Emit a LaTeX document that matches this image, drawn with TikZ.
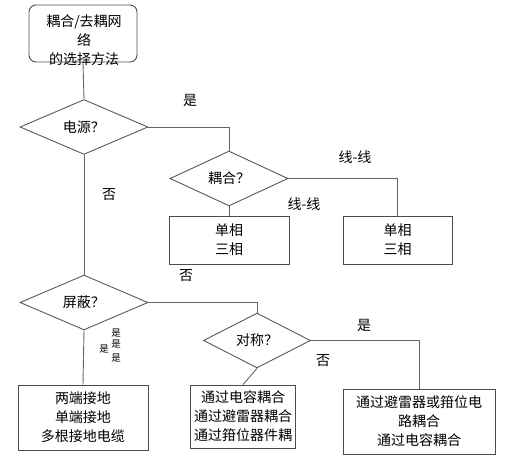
\documentclass[tikz,border=0pt]{standalone}
\usepackage{fontspec}
\setmainfont{Noto Sans CJK SC}
\usetikzlibrary{positioning, shapes.geometric, shadows}

\begin{document}
\begin{tikzpicture}[
  x=1pt, y=-1pt,
  every node/.style={font=\fontsize{14}{19}\selectfont},
  startbox/.style={rectangle, rounded corners=7pt, draw=black!70, line width=0.9pt,
                minimum width=108pt, minimum height=57pt},
  decision/.style={diamond, draw=black!65, line width=0.9pt, inner sep=0pt,
                minimum width=#1, minimum height=47pt},
  actionbox/.style={rectangle, draw=black!70, line width=0.9pt, fill=white, align=center,
                drop shadow={shadow xshift=1pt, shadow yshift=-1pt, fill=black!45, opacity=1}},
  edge/.style={draw=black!60, line width=0.9pt},
  answer/.style={inner sep=1pt},
  stacked/.style={inner sep=0pt, font=\fontsize{9.5}{10}\selectfont}
]
\useasboundingbox (0,0) rectangle (515,465);

% === Start ===
\node[startbox] (start) at (83,33.5) {};
\node[align=center, inner sep=0pt] (starttext) at (84,40) {耦合/去耦网\\络\\的选择方法};

% === Decisions ===
\node[decision=128pt] (power)  at (84,127) {电源？};
\node[decision=118pt] (couple) at (229,178.5) {耦合？};
\node[decision=128pt] (shield) at (84,302.5) {屏蔽？};
\node[decision=107pt] (sym)    at (257,340.5) {对称？};

% === Actions ===
\node[actionbox, minimum width=120pt, minimum height=48pt] (phaseL) at (229,240) {单相\\三相};
\node[actionbox, minimum width=109pt, minimum height=48pt] (phaseR) at (397.5,240) {单相\\三相};
\node[actionbox, minimum width=130pt, minimum height=65pt] (ground) at (83,417.5) {两端接地\\单端接地\\多根接地电缆};
\node[actionbox, minimum width=100pt, minimum height=63pt] (capa)   at (243,416.5) {通过电容耦合\\通过避雷器耦合\\通过箝位器件耦};
\node[actionbox, minimum width=152pt, minimum height=65pt] (arrest) at (419,421.5) {通过避雷器或箝位电\\路耦合\\通过电容耦合};

% === Connectors ===
\draw[edge] (start.south) -- (power.north);
\draw[edge] (power.east) -| (couple.north);
\draw[edge] (couple.south) -- (phaseL.north);
\draw[edge] (couple.east) -| (phaseR.north);
\draw[edge] (power.south) -- (shield.north);
\draw[edge] (shield.south) -- (ground.north);
\draw[edge] (shield.east) -| (sym.north);
\draw[edge] (sym.south) -- (capa.north);
\draw[edge] (sym.east) -| (arrest.north);

% === Answers ===
\node[answer] (yes1) at (190,100) {是};
\node[answer] (ll1)  at (355,157) {线-线};
\node[answer] (ll2)  at (304,204) {线-线};
\node[answer] (no1)  at (109,195) {否};
\node[answer] (no2)  at (186,276) {否};
\node[stacked] (yes2) at (116,333) {是};
\node[stacked] (yes3) at (116,344) {是};
\node[stacked] (yes4) at (104,349) {是};
\node[stacked] (yes5) at (116,358) {是};
\node[answer] (yes6) at (364,325) {是};
\node[answer] (no3)  at (323,361) {否};

\end{tikzpicture}
\end{document}
